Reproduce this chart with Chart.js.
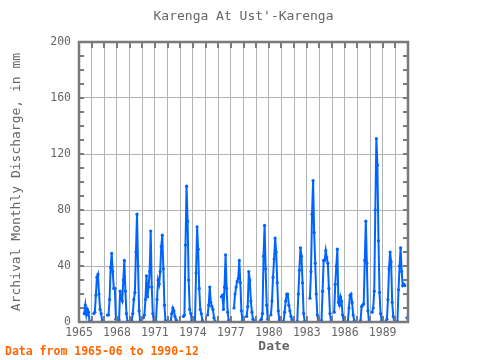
<!DOCTYPE html>
<html>
<head>
<meta charset="utf-8">
<script src="https://cdn.jsdelivr.net/npm/chart.js@4/dist/chart.umd.min.js"></script>
<style>
  html, body { margin: 0; padding: 0; background: #ffffff; }
  canvas { display: block; }
</style>
</head>
<body>
<canvas id="c" width="480" height="360"></canvas>
<script>
// Monthly archival discharge (mm), Jan..Dec for each year; null = no value
const n = null;
const y1965 = [n,n,n,n,n,6,12,5,9,7,0.5,n];
const y1966 = [n,n,6,7,19,32,34,20,9,6,0.7,n];
const y1967 = [n,n,n,5,5,16,39,49,36,24,24,2];
const y1968 = [n,n,1.5,22,17,15,30,44,22,6,0.5,n];
const y1969 = [n,n,1,6,16,21,50,77,40,8,0.5,n];
const y1970 = [n,3,5,16,33,18,25,36,65,25,6,0.5];
const y1971 = [n,0.5,16,30,27,36,54,62,38,12,1,n];
const y1972 = [n,n,n,0.5,6,10,8,4,1.5,0.5,n,n];
const y1973 = [n,n,n,4,5,55,97,72,30,9,6,1];
const y1974 = [n,n,0.5,35,68,52,24,9,6,1,n,n];
const y1975 = [n,n,5,12,25,14,11,9,3,0.5,n,n];
const y1976 = [n,n,n,18,19,9,25,48,24,7,1,n];
const y1977 = [n,n,n,10,20,25,29,31,44,28,8,1];
const y1978 = [n,n,n,4,11,36,30,15,7,2,0.5,n];
const y1979 = [n,n,n,n,1,2,6,47,69,38,12,2];
const y1980 = [n,n,5,15,32,45,60,50,28,8,1,n];
const y1981 = [n,n,0.5,7,15,20,20,12,8,4,1.5,n];
const y1982 = [n,n,n,0.5,20,37,53,47,28,6,0.5,n];
const y1983 = [n,n,n,17,36,77,101,64,42,20,5,0.5];
const y1984 = [n,n,1,22,44,44,51,46,42,24,6,0.5];
const y1985 = [n,n,7,27,40,52,14,12,18,15,5,0.5];
const y1986 = [n,n,n,0.5,10,19,20,14,5,1,n,n];
const y1987 = [n,n,n,1,11,12,13,44,72,42,8,0.5];
const y1988 = [n,n,7,10,22,80,131,112,58,21,6,1];
const y1989 = [n,n,n,0.5,2,16,38,50,43,14,4,0.5];
const y1990 = [n,n,0.5,23,40,53,36,26,27,26,n,3];

const years = [1965,1966,1967,1968,1969,1970,1971,1972,1973,1974,1975,1976,1977,
               1978,1979,1980,1981,1982,1983,1984,1985,1986,1987,1988,1989,1990];
const yearValues = [y1965,y1966,y1967,y1968,y1969,y1970,y1971,y1972,y1973,y1974,y1975,y1976,y1977,
                    y1978,y1979,y1980,y1981,y1982,y1983,y1984,y1985,y1986,y1987,y1988,y1989,y1990];
const xTickLabels = [1965,1968,1971,1974,1977,1980,1983,1986,1989];
const yTickLabels = [0,40,80,120,160,200];

const titleText = "Karenga At Ust'-Karenga";
const yTitleText = "Archival Monthly Discharge, in mm";
const xTitleText = "Date";
const footerText = "Data from 1965-06 to 1990-12";

const points = [];
years.forEach((yr, i) => {
  yearValues[i].forEach((v, m) => {
    if (yr === 1965 && m < 5) return;
    points.push({ x: yr + m / 12, y: v });
  });
});

const FONT = "'DejaVu Sans Mono', 'Liberation Mono', monospace";
const GREY = '#666666';

const decor = {
  id: 'decor',
  afterDatasetsDraw(chart) {
    const { ctx, chartArea: a, scales: { x, y } } = chart;
    ctx.save();
    ctx.strokeStyle = '#7a7a7a';
    ctx.lineWidth = 2;
    ctx.beginPath();
    for (let yr = years[0] + 1; yr < 1991; yr++) {
      const px = Math.round(x.getPixelForValue(yr));
      ctx.moveTo(px, a.top); ctx.lineTo(px, a.top + 6);
      ctx.moveTo(px, a.bottom); ctx.lineTo(px, a.bottom - 6);
    }
    for (let v = 10; v < 200; v += 10) {
      const py = Math.round(y.getPixelForValue(v));
      ctx.moveTo(a.left, py); ctx.lineTo(a.left + 5, py);
      ctx.moveTo(a.right, py); ctx.lineTo(a.right - 5, py);
    }
    ctx.stroke();
    ctx.lineWidth = 2.5;
    ctx.strokeRect(a.left, a.top, a.right - a.left, a.bottom - a.top);
    ctx.restore();
  },
  afterDraw(chart) {
    const { ctx, chartArea: a } = chart;
    ctx.save();
    ctx.fillStyle = GREY;
    ctx.textAlign = 'center';
    ctx.textBaseline = 'middle';
    ctx.font = "13px " + FONT;
    ctx.fillText(titleText, (a.left + a.right) / 2, 17);
    ctx.font = "bold 13px " + FONT;
    ctx.fillText(xTitleText, 274, 347);
    ctx.save();
    ctx.translate(17, (a.top + a.bottom) / 2);
    ctx.rotate(-Math.PI / 2);
    ctx.font = "13px " + FONT;
    ctx.fillText(yTitleText, 0, 0);
    ctx.restore();
    ctx.textAlign = 'left';
    ctx.fillStyle = '#ff6600';
    ctx.font = "bold 11.5px " + FONT;
    ctx.fillText(footerText, 5, 352);
    ctx.restore();
  }
};

new Chart(document.getElementById('c'), {
  type: 'line',
  data: {
    datasets: [{
      data: points,
      borderColor: '#0064ff',
      backgroundColor: '#0064ff',
      borderWidth: 2,
      pointRadius: 1.6,
      pointBorderWidth: 0,
      pointHoverRadius: 1.6,
      spanGaps: false,
      tension: 0,
      fill: false
    }]
  },
  options: {
    responsive: false,
    animation: false,
    devicePixelRatio: 1,
    layout: { padding: { left: 0, right: 72, top: 42, bottom: 0 } },
    plugins: { legend: { display: false }, tooltip: { enabled: false }, title: { display: false } },
    scales: {
      x: {
        type: 'linear',
        min: 1965, max: 1991,
        afterFit: s => { s.height = 38; },
        afterBuildTicks: s => {
          const t = [];
          for (let yr = 1965; yr <= 1991; yr++) t.push({ value: yr });
          s.ticks = t;
        },
        ticks: {
          autoSkip: false, maxRotation: 0, padding: 4,
          color: GREY, font: { family: FONT, size: 11.5 },
          callback: v => xTickLabels.includes(v) ? String(v) : ''
        },
        grid: { color: '#b4b4b4', lineWidth: 1, drawTicks: false },
        border: { display: false }
      },
      y: {
        min: 0, max: 200,
        afterFit: s => { s.width = 79; },
        afterBuildTicks: s => { s.ticks = yTickLabels.map(v => ({ value: v })); },
        ticks: {
          padding: 8, color: GREY, font: { family: FONT, size: 11.5 },
          callback: v => String(v)
        },
        grid: { color: '#b4b4b4', lineWidth: 1, drawTicks: false },
        border: { display: false }
      }
    }
  },
  plugins: [decor]
});
</script>
</body>
</html>
